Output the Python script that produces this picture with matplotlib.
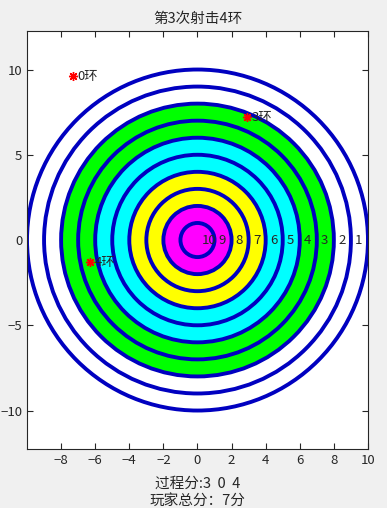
import matplotlib
matplotlib.use("Agg")
import matplotlib.pyplot as plt
from matplotlib.patches import Circle

plt.rcParams['font.family'] = ['Noto Sans CJK SC', 'DejaVu Sans']

# Ring radii (outer edge) and fill colours, from outside in
radii = [10, 9, 8, 7, 6, 5, 4, 3, 2, 1]
fills = ["white", "white", "#00FF00", "#00FF00", "#00FFFF", "#00FFFF",
         "#FFFF00", "#FFFF00", "#FF00FF", "#FF00FF"]

# Ring score labels
ring_scores = [1, 2, 3, 4, 5, 6, 7, 8, 9, 10]

# Shots: position and score
shot_x = [-7.3, 2.9, -6.3]
shot_y = [9.6, 7.2, -1.3]
shot_score = [0, 3, 4]

title = "第3次射击4环"
process_label = "过程分:3  0  4"
total_label = "玩家总分：7分"

fig = plt.figure(figsize=(3.87, 5.08), dpi=100, facecolor="#F0F0F0")
ax = fig.add_axes([0.0698, 0.116, 0.881, 0.823])

for r, fc in zip(radii, fills):
    ax.add_patch(Circle((0, 0), r, facecolor=fc, edgecolor="#0000C0",
                        lw=2.8, zorder=2))

for s in ring_scores:
    ax.text(10.25 - s, 0, str(s), ha="left", va="center",
            fontsize=9.5, color="#262626", zorder=3)

for x, y, s in zip(shot_x, shot_y, shot_score):
    ax.plot(x, y, marker=(8, 2, 0), color="red", ms=6.5, mew=1,
            zorder=4)
    ax.text(x + 0.25, y, f"{s}环", ha="left", va="center",
            fontsize=9.5, color="#262626", zorder=4)

ax.set_xlim(-10, 10)
ax.set_ylim(-12.26, 12.26)
ax.set_xticks(range(-8, 11, 2))
ax.set_yticks([-10, -5, 0, 5, 10])
ax.tick_params(direction="in", top=True, right=True, labelsize=9.5,
               colors="#262626", length=4)
for sp in ax.spines.values():
    sp.set_color("#262626")
    sp.set_linewidth(0.8)

ax.set_title(title, fontsize=10.5, color="#262626", pad=6)
ax.set_xlabel(process_label + "\n" + total_label, fontsize=10.5,
              color="#262626", linespacing=1.25, labelpad=7)

fig.savefig("out.png", dpi=100, facecolor=fig.get_facecolor())
